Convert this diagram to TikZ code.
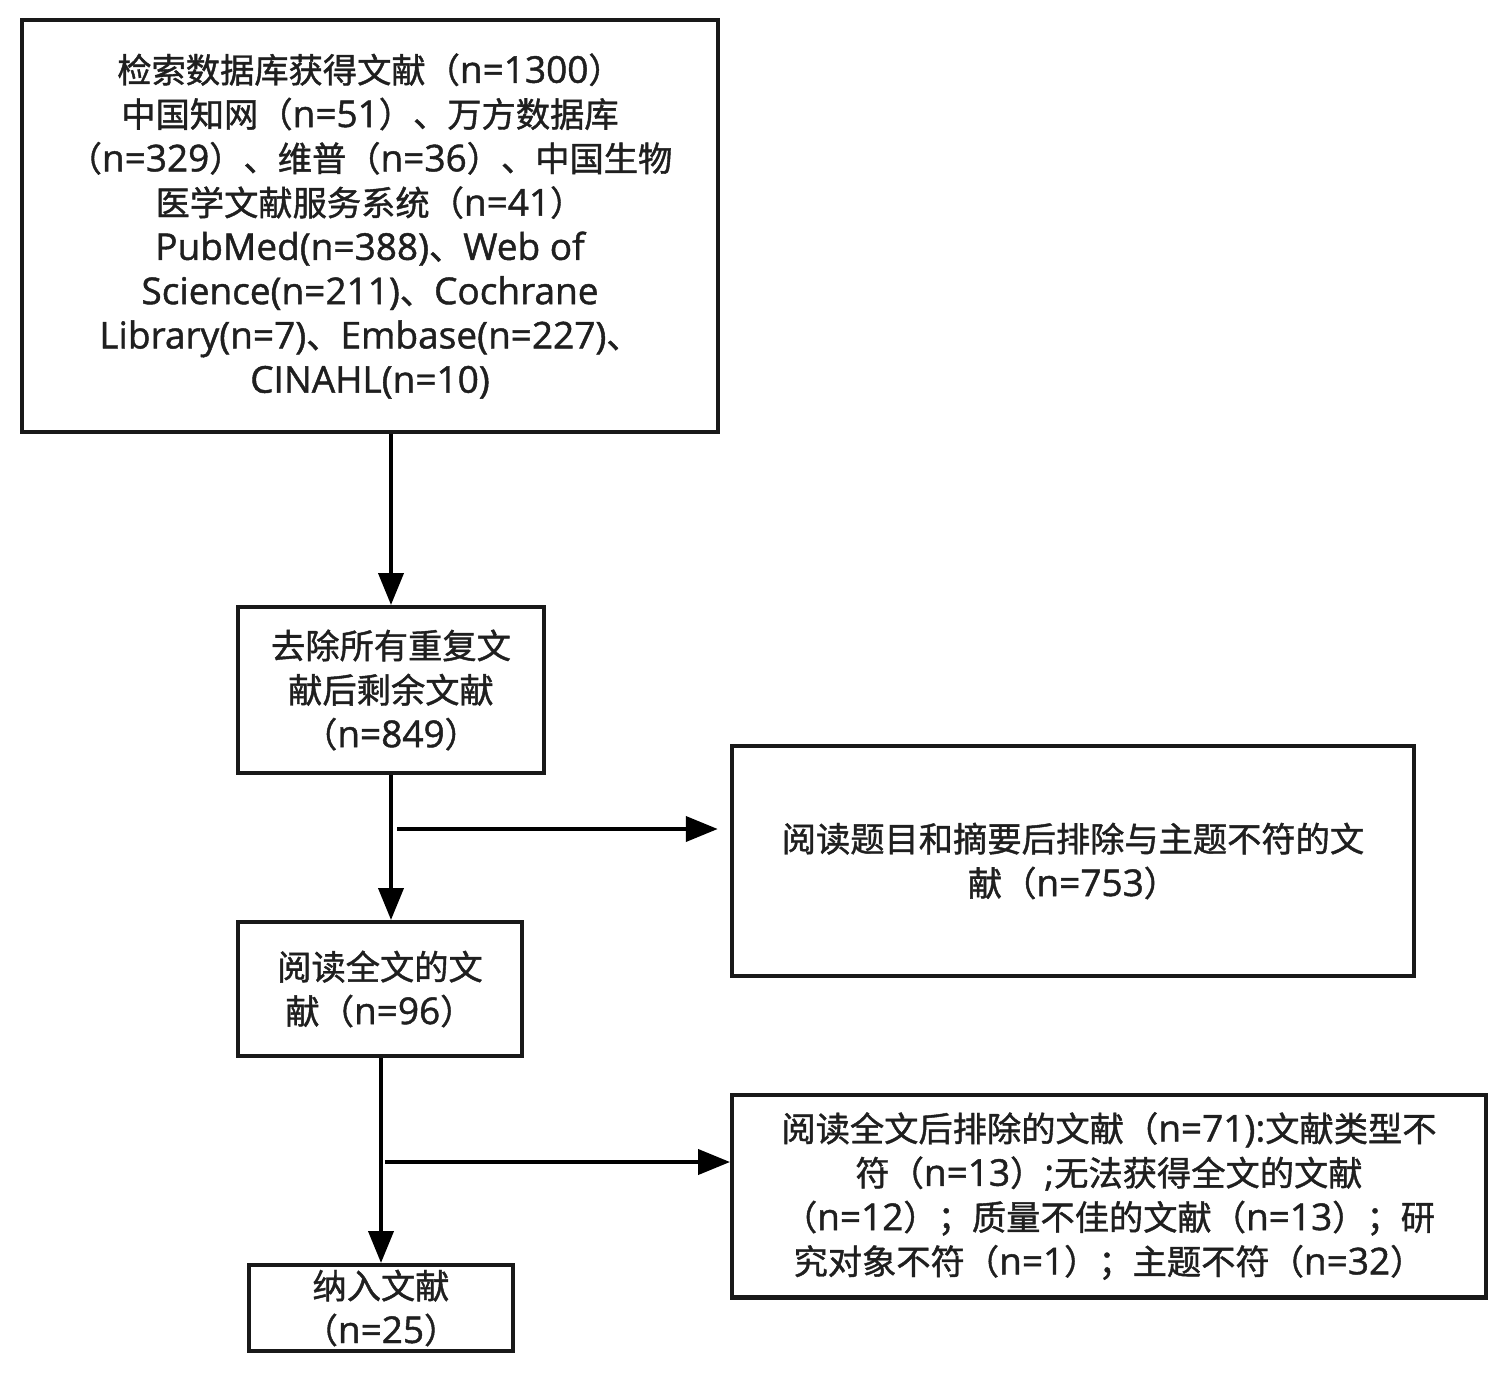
\documentclass[tikz,border=0pt]{standalone}
\usepackage{fontspec}
\setmainfont{Open Sans}[FakeBold=1.2,Scale=1.08]
\newfontfamily\cjkfont{Noto Sans CJK SC}[FakeBold=1.2]
\newfontfamily\latinfont{Open Sans}[FakeBold=1.2,Scale=1.08]
\usetikzlibrary{arrows.meta}
% switch to the CJK face for Chinese characters and full-width punctuation
\XeTeXinterchartokenstate=1
\newXeTeXintercharclass\cjkclass
\makeatletter
\count@="3000
\loop\XeTeXcharclass\count@=\cjkclass\ifnum\count@<"9FFF\advance\count@ 1 \repeat
\count@="FF00
\loop\XeTeXcharclass\count@=\cjkclass\ifnum\count@<"FFEF\advance\count@ 1 \repeat
\makeatother
\XeTeXinterchartoks 0 \cjkclass={\cjkfont}
\XeTeXinterchartoks 4095 \cjkclass={\cjkfont}
\XeTeXinterchartoks \cjkclass 0={\latinfont}
\XeTeXinterchartoks 4095 0={\latinfont}

\begin{document}
\begin{tikzpicture}[x=0.02cm,y=-0.02cm,font=\fontsize{19.5}{25.2}\selectfont,text=black!88,
  stage/.style={draw=black!90,line width=2.3pt,align=center,inner sep=0pt},
  flow/.style={line width=2.3pt,-{Triangle[length=0.64cm,width=0.5cm]}}]
\useasboundingbox (0,0) rectangle (1502,1373);
\node[stage,minimum width=13.92cm,minimum height=8.24cm] (search) at (370,226) {检索数据库获得文献（n=1300）\\中国知网（n=51）、万方数据库\\（n=329）、维普（n=36）、中国生物\\医学文献服务系统（n=41）\\PubMed(n=388)、Web of\\Science(n=211)、Cochrane\\Library(n=7)、Embase(n=227)、\\CINAHL(n=10)};
\node[stage,minimum width=6.12cm,minimum height=3.32cm] (dedup) at (391,690) {去除所有重复文\\献后剩余文献\\（n=849）};
\node[stage,minimum width=5.68cm,minimum height=2.68cm] (fulltext) at (380,989) {阅读全文的文\\献（n=96）};
\node[stage,minimum width=5.28cm,minimum height=1.72cm] (include) at (381,1308) {纳入文献\\（n=25）};
\node[stage,minimum width=13.64cm,minimum height=4.6cm] (excl1) at (1073,861) {阅读题目和摘要后排除与主题不符的文\\献（n=753）};
\node[stage,minimum width=15.08cm,minimum height=4.06cm] (excl2) at (1109,1196) {阅读全文后排除的文献（n=71):文献类型不\\符（n=13）;无法获得全文的文献\\（n=12）；质量不佳的文献（n=13）；研\\究对象不符（n=1）；主题不符（n=32）};
% side branches
\coordinate (split1) at (397,829);
\coordinate (split2) at (385,1162);
\draw[flow] (search.south -| dedup.north) -- (dedup.north);
\draw[flow] (dedup.south) -- (dedup.south |- fulltext.north);
\draw[flow] (fulltext.south -| include.north) -- (include.north);
\draw[flow,shorten >=7] (split1) -- (split1 -| excl1.west);
\draw[flow] (split2) -- (split2 -| excl2.west);
\end{tikzpicture}
\end{document}
